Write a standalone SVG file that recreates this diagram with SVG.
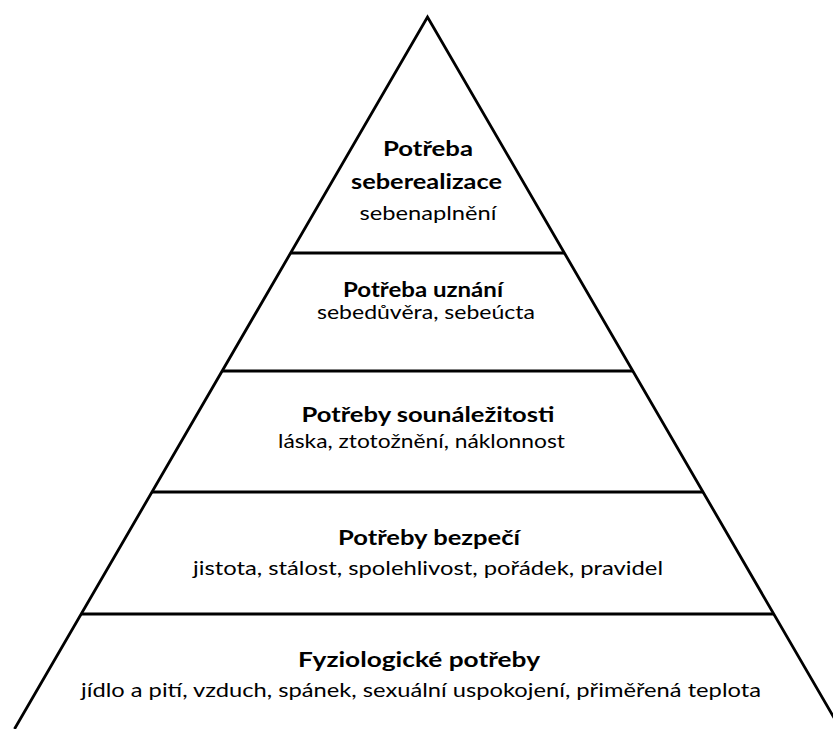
<svg xmlns="http://www.w3.org/2000/svg" width="833" height="729" viewBox="0 0 833 729">
<style>
.ln{stroke:#000;stroke-width:2.8;fill:none;stroke-linejoin:miter}
.t{font-family:Lato,"Liberation Sans",sans-serif;font-size:20px;fill:#000;text-anchor:middle}
.b{font-weight:bold}
</style>
<rect width="833" height="729" fill="#fff"/>
<g id="pyramid">
<path class="ln" d="M14.5,729 L427.5,17 L840.5,729"/>
<line class="ln" x1="290.6" y1="253" x2="564.4" y2="253"/>
<line class="ln" x1="222.2" y1="371" x2="632.8" y2="371"/>
<line class="ln" x1="152" y1="492" x2="703" y2="492"/>
<line class="ln" x1="81.2" y1="614" x2="773.8" y2="614"/>
</g>
<g id="tier5">
<text class="t b" x="428" y="156" textLength="90" lengthAdjust="spacingAndGlyphs">Potřeba</text>
<text class="t b" x="426.5" y="189" textLength="151" lengthAdjust="spacingAndGlyphs">seberealizace</text>
<text class="t" x="428" y="220" textLength="137" lengthAdjust="spacingAndGlyphs">sebenaplnění</text>
</g>
<g id="tier4">
<text class="t b" x="423" y="297" textLength="160" lengthAdjust="spacingAndGlyphs">Potřeba uznání</text>
<text class="t" x="426" y="319" textLength="218" lengthAdjust="spacingAndGlyphs">sebedůvěra, sebeúcta</text>
</g>
<g id="tier3">
<text class="t b" x="428" y="422" textLength="253" lengthAdjust="spacingAndGlyphs">Potřeby sounáležitosti</text>
<text class="t" x="421.5" y="448" textLength="287" lengthAdjust="spacingAndGlyphs">láska, ztotožnění, náklonnost</text>
</g>
<g id="tier2">
<text class="t b" x="429" y="545" textLength="182" lengthAdjust="spacingAndGlyphs">Potřeby bezpečí</text>
<text class="t" x="428" y="575" textLength="470" lengthAdjust="spacingAndGlyphs">jistota, stálost, spolehlivost, pořádek, pravidel</text>
</g>
<g id="tier1">
<text class="t b" x="419" y="667" textLength="242" lengthAdjust="spacingAndGlyphs">Fyziologické potřeby</text>
<text class="t" x="421" y="697" textLength="680" lengthAdjust="spacingAndGlyphs">jídlo a pití, vzduch, spánek, sexuální uspokojení, přiměřená teplota</text>
</g>
<g id="connectors"></g>
</svg>
